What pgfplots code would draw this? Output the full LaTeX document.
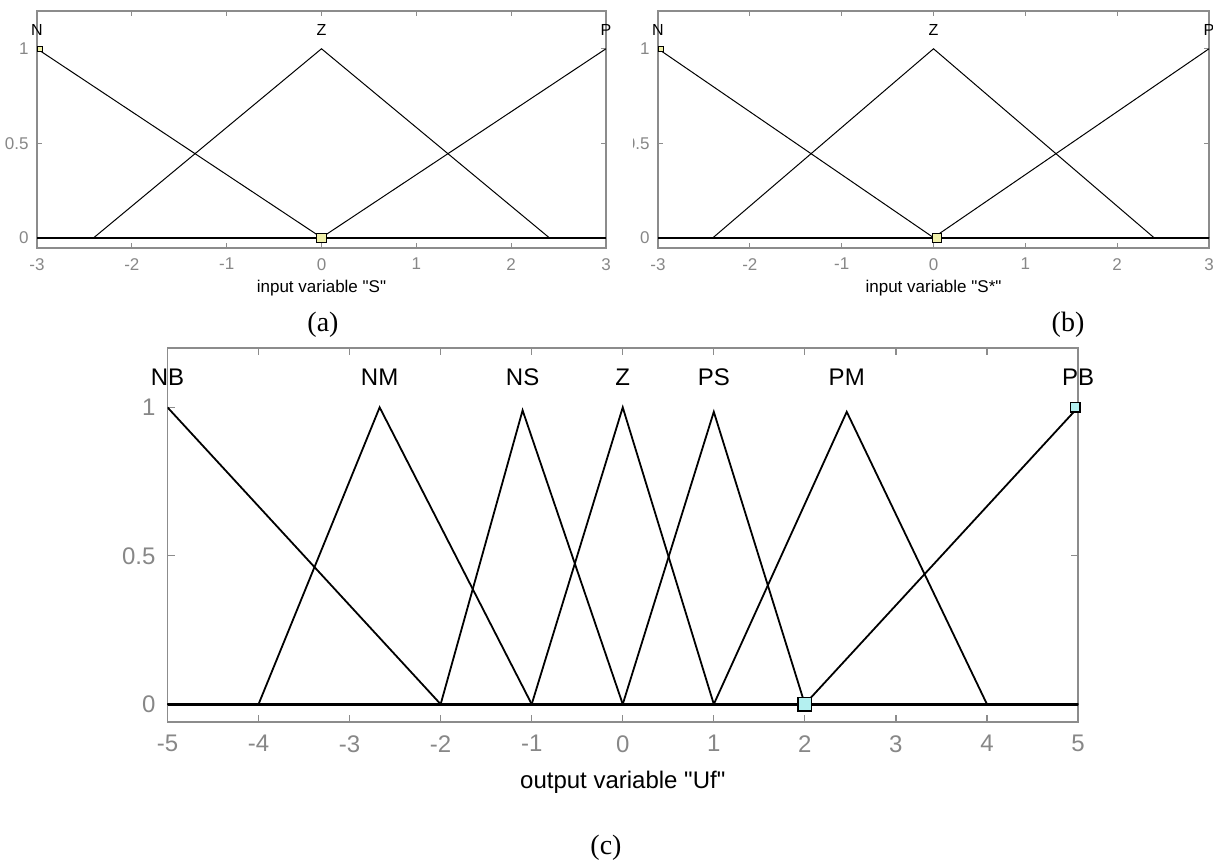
\documentclass[border=0pt]{standalone}
\usepackage{fontspec}
\setmainfont{Liberation Sans}
\newfontfamily\capfont{Liberation Serif}
\usepackage{pgfplots}
\pgfplotsset{compat=1.18}
\definecolor{tickgray}{RGB}{135,135,135}
\definecolor{boxgray}{RGB}{140,140,140}
\definecolor{mfyellow}{RGB}{240,240,170}
\definecolor{mfcyan}{RGB}{180,240,240}
\pgfplotsset{
  mfaxis/.style={
    scale only axis, anchor=north west, clip mode=individual,
    axis line style={boxgray, line width=0.8pt},
    tick style={boxgray, line width=0.6pt},
    tick align=inside, xtick pos=both, ytick pos=both,
    xticklabel pos=lower, yticklabel pos=left,
    ticklabel style={text=tickgray},
    ytick={0,0.5,1}, yticklabels={0,0.5,1},
    ymax=1.2,
  },
  mfline/.style={black, line width=0.5pt, mark=none},
}
\begin{document}
\begin{tikzpicture}
\path[use as bounding box] (0,0) rectangle (606.5pt,-433pt);
% ---------- (a)
\begin{axis}[mfaxis, at={(18.5pt,-5.5pt)}, width=284.5pt, height=118.5pt,
  xmin=-3, xmax=3, ymin=-0.055,
  xtick={-3,-2,-1,0,1,2,3}, xticklabels={-3,-2,-1,0,1,2,3},
  ticklabel style={font=\fontsize{8.5}{10}\selectfont},
  xticklabel style={yshift=-1.6pt}, yticklabel style={xshift=-0.7pt},
  major tick length=2.5pt,
  xlabel={input variable \textquotedbl S\textquotedbl},
  xlabel style={font=\fontsize{8.5}{10}\selectfont, at={(axis description cs:0.5,-0.169)}, anchor=center}]
\addplot[mfline] coordinates {(-3,1) (0,0) (3,0)};
\addplot[mfline] coordinates {(-3,0) (-2.4,0) (0,1) (2.4,0) (3,0)};
\addplot[mfline] coordinates {(-3,0) (0,0) (3,1)};
\addplot[black, line width=1.1pt] coordinates {(-3,0) (3,0)};
\addplot[only marks, mark=square*, mark size=2.3pt, mark options={fill=mfyellow, draw=black, line width=0.5pt}] coordinates {(0,0)};
\addplot[only marks, mark=square*, mark size=1.2pt, mark options={fill=mfyellow, draw=black, line width=0.5pt}] coordinates {(-2.97,1)};
\node[font=\fontsize{8}{9}\selectfont] at (axis cs:-3,1.1) {N};
\node[font=\fontsize{8}{9}\selectfont] at (axis cs:0,1.1) {Z};
\node[font=\fontsize{8}{9}\selectfont] at (axis cs:3,1.1) {P};
\end{axis}
% ---------- (b)
\begin{axis}[mfaxis, at={(329pt,-5.5pt)}, width=275.5pt, height=118.5pt,
  xmin=-3, xmax=3, ymin=-0.055,
  xtick={-3,-2,-1,0,1,2,3}, xticklabels={-3,-2,-1,0,1,2,3},
  ticklabel style={font=\fontsize{8.5}{10}\selectfont},
  xticklabel style={yshift=-1.6pt}, yticklabel style={xshift=-0.7pt},
  major tick length=2.5pt,
  xlabel={input variable \textquotedbl S*\textquotedbl},
  xlabel style={font=\fontsize{8.5}{10}\selectfont, at={(axis description cs:0.5,-0.169)}, anchor=center}]
\addplot[mfline] coordinates {(-3,1) (0,0) (3,0)};
\addplot[mfline] coordinates {(-3,0) (-2.4,0) (0,1) (2.4,0) (3,0)};
\addplot[mfline] coordinates {(-3,0) (0,0) (3,1)};
\addplot[black, line width=1.1pt] coordinates {(-3,0) (3,0)};
\addplot[only marks, mark=square*, mark size=2.3pt, mark options={fill=mfyellow, draw=black, line width=0.5pt}] coordinates {(0.04,0)};
\addplot[only marks, mark=square*, mark size=1.2pt, mark options={fill=mfyellow, draw=black, line width=0.5pt}] coordinates {(-2.97,1)};
\node[font=\fontsize{8}{9}\selectfont] at (axis cs:-3,1.1) {N};
\node[font=\fontsize{8}{9}\selectfont] at (axis cs:0,1.1) {Z};
\node[font=\fontsize{8}{9}\selectfont] at (axis cs:3,1.1) {P};
\end{axis}
% ---------- (c)
\begin{axis}[mfaxis, at={(83.75pt,-174pt)}, width=455.25pt, height=187pt,
  xmin=-5, xmax=5, ymin=-0.06,
  xtick={-5,-4,-3,-2,-1,0,1,2,3,4,5}, xticklabels={-5,-4,-3,-2,-1,0,1,2,3,4,5},
  ticklabel style={font=\fontsize{12}{14}\selectfont},
  xticklabel style={yshift=-3.2pt}, yticklabel style={xshift=-2.5pt},
  major tick length=3.5pt,
  xlabel={output variable \textquotedbl Uf\textquotedbl},
  xlabel style={font=\fontsize{12}{14}\selectfont, at={(axis description cs:0.5,-0.160)}, anchor=center}]
\addplot[mfline, line width=0.9pt] coordinates {(-5,1) (-2,0) (5,0)};
\addplot[mfline, line width=0.9pt] coordinates {(-5,0) (-4,0) (-2.67,1) (-1,0) (5,0)};
\addplot[mfline, line width=0.9pt] coordinates {(-5,0) (-2,0) (-1.1,0.99) (0,0) (5,0)};
\addplot[mfline, line width=0.9pt] coordinates {(-5,0) (-1,0) (0,1) (1,0) (5,0)};
\addplot[mfline, line width=0.9pt] coordinates {(-5,0) (0,0) (1,0.985) (2,0) (5,0)};
\addplot[mfline, line width=0.9pt] coordinates {(-5,0) (1,0) (2.46,0.985) (4,0) (5,0)};
\addplot[mfline, line width=0.9pt] coordinates {(-5,0) (2,0) (5,1)};
\addplot[black, line width=1.4pt] coordinates {(-5,0) (5,0)};
\addplot[only marks, mark=square*, mark size=3.4pt, mark options={fill=mfcyan, draw=black, line width=0.7pt}] coordinates {(2,0)};
\addplot[only marks, mark=square*, mark size=2.4pt, mark options={fill=mfcyan, draw=black, line width=0.7pt}] coordinates {(4.97,1)};
\node[font=\fontsize{12}{14}\selectfont] at (axis cs:-5,1.1) {NB};
\node[font=\fontsize{12}{14}\selectfont] at (axis cs:-2.67,1.1) {NM};
\node[font=\fontsize{12}{14}\selectfont] at (axis cs:-1.1,1.1) {NS};
\node[font=\fontsize{12}{14}\selectfont] at (axis cs:0,1.1) {Z};
\node[font=\fontsize{12}{14}\selectfont] at (axis cs:1,1.1) {PS};
\node[font=\fontsize{12}{14}\selectfont] at (axis cs:2.46,1.1) {PM};
\node[font=\fontsize{12}{14}\selectfont] at (axis cs:5,1.1) {PB};
\end{axis}
% cropped tick label of (b)
\fill[white] (308pt,-60pt) rectangle (316.5pt,-82pt);
% captions
\node[font=\capfont\fontsize{14}{16}\selectfont] at (161.5pt,-162.5pt) {(a)};
\node[font=\capfont\fontsize{14}{16}\selectfont] at (534pt,-162.5pt) {(b)};
\node[font=\capfont\fontsize{14}{16}\selectfont] at (303pt,-424pt) {(c)};
\end{tikzpicture}
\end{document}
